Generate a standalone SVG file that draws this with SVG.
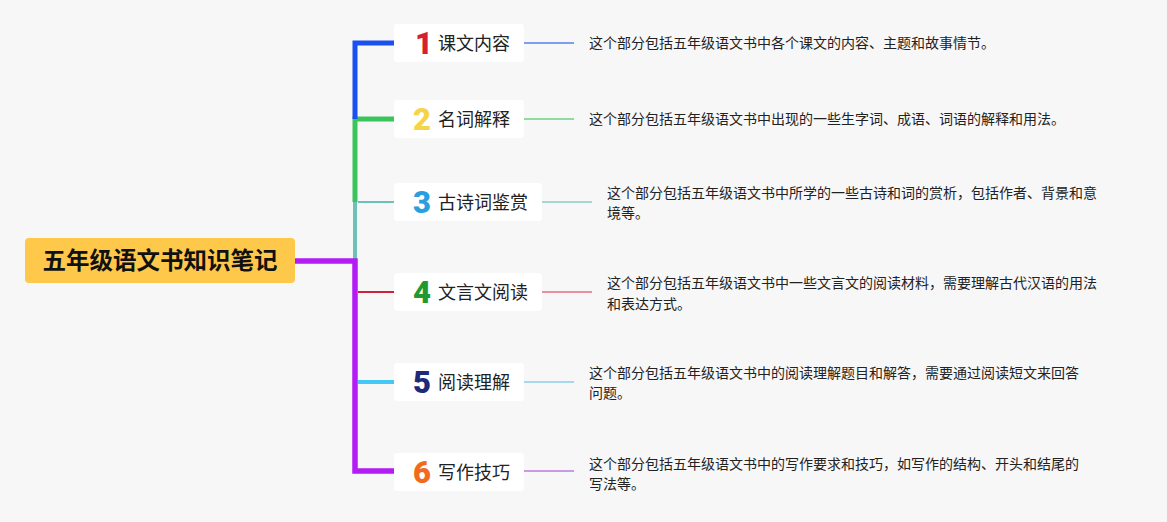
<svg xmlns="http://www.w3.org/2000/svg" width="1167" height="522" viewBox="0 0 1167 522">
<style>
.box{fill:#ffffff;}
.num{font-family:Roboto,"Noto Sans",sans-serif;font-weight:900;font-size:31px;}
.lbl{font-family:"Noto Sans CJK SC",sans-serif;font-size:18px;fill:#222;}
.desc{font-family:"Noto Sans CJK SC",sans-serif;font-size:14px;fill:#222;}
.root{font-family:"Noto Sans CJK SC",sans-serif;font-size:23.5px;font-weight:bold;fill:#111;}
.c{fill:none;stroke-linejoin:miter;}
</style>
<rect x="0" y="0" width="1167" height="522" fill="#f7f7f8"/>
<g id="connectors">
<path class="c" d="M355 261 V202" stroke="#6cc2b6" stroke-width="4"/>
<path class="c" d="M358 202 H394" stroke="#6cc2b6" stroke-width="2"/>
<path class="c" d="M355 202 V119 H394" stroke="#3cc45c" stroke-width="5"/>
<path class="c" d="M394 43 H355 V119" stroke="#1a4ff0" stroke-width="5"/>
<path class="c" d="M358 292 H394" stroke="#d0213a" stroke-width="2"/>
<path class="c" d="M358 382 H394" stroke="#45c8f5" stroke-width="4"/>
<path class="c" d="M295 261 H355 V471 H394" stroke="#b31cf5" stroke-width="5.5"/>
<path class="c" d="M524 43 H574" stroke="#7f9ef0" stroke-width="2"/>
<path class="c" d="M524 119 H574" stroke="#90dca0" stroke-width="2"/>
<path class="c" d="M542 202 H592" stroke="#a6d8d2" stroke-width="2"/>
<path class="c" d="M542 292 H592" stroke="#e890a2" stroke-width="2"/>
<path class="c" d="M524 382 H574" stroke="#a8d8ec" stroke-width="2"/>
<path class="c" d="M524 471 H574" stroke="#c89ae8" stroke-width="2"/>
</g>
<g id="root">
<rect x="25" y="238" width="270" height="45" rx="4" fill="#fec84b"/>
<text class="root" x="160" y="269" text-anchor="middle">五年级语文书知识笔记</text>
</g>
<g id="n1">
<rect class="box" x="394" y="24" width="130" height="38" rx="3"/>
<text class="num" x="415" y="54" fill="#d81e32">1</text>
<text class="lbl" x="438" y="50">课文内容</text>
</g>
<g id="n2">
<rect class="box" x="394" y="100" width="130" height="38" rx="3"/>
<text class="num" x="413" y="130" fill="#f5d44a">2</text>
<text class="lbl" x="438" y="126">名词解释</text>
</g>
<g id="n3">
<rect class="box" x="394" y="183" width="148" height="38" rx="3"/>
<text class="num" x="413" y="213" fill="#2a9fe0">3</text>
<text class="lbl" x="438" y="209">古诗词鉴赏</text>
</g>
<g id="n4">
<rect class="box" x="394" y="273" width="148" height="38" rx="3"/>
<text class="num" x="413" y="303" fill="#1e9a30">4</text>
<text class="lbl" x="438" y="299">文言文阅读</text>
</g>
<g id="n5">
<rect class="box" x="394" y="363" width="130" height="38" rx="3"/>
<text class="num" x="413" y="393" fill="#1e2a78">5</text>
<text class="lbl" x="438" y="389">阅读理解</text>
</g>
<g id="n6">
<rect class="box" x="394" y="453" width="130" height="38" rx="3"/>
<text class="num" x="413" y="483" fill="#f26b1d">6</text>
<text class="lbl" x="438" y="479">写作技巧</text>
</g>
<g id="d1"><text class="desc" x="589" y="48">这个部分包括五年级语文书中各个课文的内容、主题和故事情节。</text></g>
<g id="d2"><text class="desc" x="589" y="124">这个部分包括五年级语文书中出现的一些生字词、成语、词语的解释和用法。</text></g>
<g id="d3"><text class="desc" x="607" y="198">这个部分包括五年级语文书中所学的一些古诗和词的赏析，包括作者、背景和意</text><text class="desc" x="607" y="218">境等。</text></g>
<g id="d4"><text class="desc" x="607" y="288">这个部分包括五年级语文书中一些文言文的阅读材料，需要理解古代汉语的用法</text><text class="desc" x="607" y="309">和表达方式。</text></g>
<g id="d5"><text class="desc" x="589" y="378">这个部分包括五年级语文书中的阅读理解题目和解答，需要通过阅读短文来回答</text><text class="desc" x="589" y="398">问题。</text></g>
<g id="d6"><text class="desc" x="589" y="469">这个部分包括五年级语文书中的写作要求和技巧，如写作的结构、开头和结尾的</text><text class="desc" x="589" y="489">写法等。</text></g>
</svg>
